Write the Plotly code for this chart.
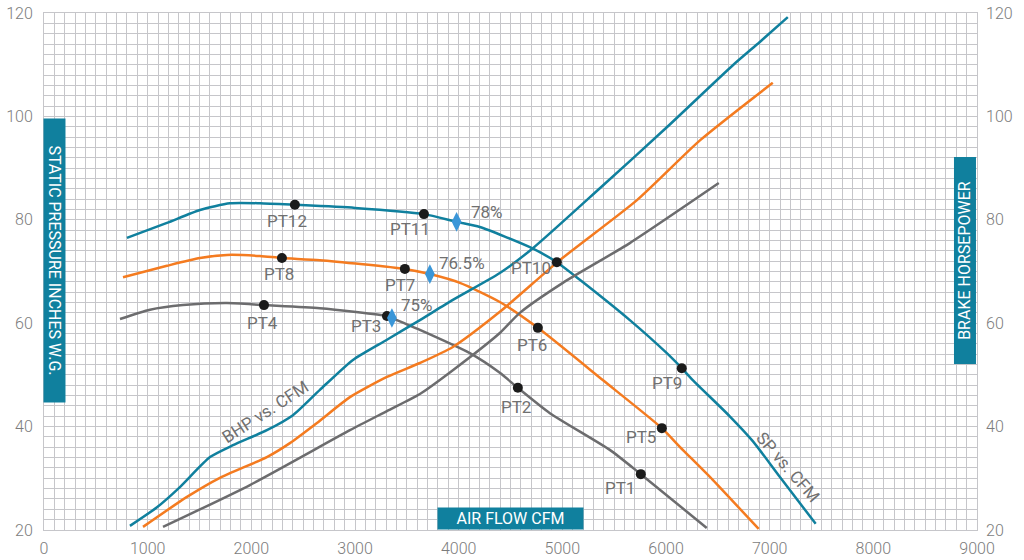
import plotly.graph_objects as go

# ---- fan curve data (CFM vs. inches W.G. / brake horsepower) ----
# Static pressure curves
sp78_cfm = [800, 1186, 1504, 1794, 2083, 2420, 3000, 3665, 3980, 4204, 4687, 4947, 5169, 5651, 6008, 6152, 6258, 6615, 6837, 7097, 7444]
sp78_val = [76.5, 79.4, 81.9, 83.2, 83.2, 82.9, 82.3, 81.1, 79.6, 78.6, 74.7, 71.8, 68.4, 60.6, 54.2, 51.3, 49.0, 42.0, 37.2, 30.3, 21.2]

sp765_cfm = [762, 1186, 1504, 1765, 2083, 2295, 2661, 3481, 3722, 4012, 4397, 4764, 5390, 5960, 6133, 6451, 6894]
sp765_val = [68.9, 71.1, 72.6, 73.2, 73.0, 72.6, 72.2, 70.5, 69.5, 67.8, 64.1, 59.1, 49.0, 39.7, 36.1, 29.7, 20.2]

sp75_cfm = [733, 1022, 1340, 1765, 2122, 2661, 3308, 3356, 3626, 4108, 4397, 4571, 4880, 5458, 5757, 6393]
sp75_val = [60.8, 62.6, 63.5, 63.9, 63.5, 62.9, 61.4, 61.0, 58.7, 54.2, 50.4, 47.5, 42.6, 35.5, 30.8, 20.4]

# Brake horsepower curves
bhp78_cfm = [829, 1090, 1311, 1601, 1823, 2150, 2401, 2661, 2980, 3308, 3626, 3944, 4397, 4716, 5362, 6008, 6645, 6905, 7175]
bhp78_val = [20.8, 24.4, 28.3, 34.1, 36.4, 39.3, 42.2, 47.1, 52.9, 56.8, 60.6, 64.5, 69.7, 74.5, 86.1, 97.9, 109.9, 114.4, 119.2]

bhp765_cfm = [955, 1379, 1697, 2150, 2372, 2633, 2951, 3308, 3626, 3944, 4397, 4976, 5720, 6330, 7030]
bhp765_val = [20.6, 26.4, 30.1, 34.1, 36.8, 40.7, 45.7, 49.6, 52.3, 55.4, 62.2, 72.2, 83.8, 95.4, 106.5]

bhp75_cfm = [1148, 1987, 2951, 3308, 3626, 3944, 4397, 4590, 5005, 5651, 6509]
bhp75_val = [20.6, 28.7, 39.3, 43.0, 46.3, 50.9, 58.1, 62.0, 67.8, 75.5, 87.1]

# Operating points
pt_names = ["PT1", "PT2", "PT3", "PT4", "PT5", "PT6", "PT7", "PT8", "PT9", "PT10", "PT11", "PT12"]
pt_cfm = [5757, 4571, 3308, 2122, 5960, 4764, 3481, 2295, 6152, 4947, 3665, 2420]
pt_val = [30.8, 47.5, 61.4, 63.5, 39.7, 59.1, 70.5, 72.6, 51.3, 71.8, 81.1, 82.9]
# label offsets in pixels (dx, dy) relative to each point
pt_offsets = [(-21, -14), (-2, -19), (-21, -10), (-1, -18), (-21, -9), (-6, -17), (-5, -16), (-3, -16), (-15, -15), (-26, -6), (-14, -15), (-8, -16)]

# Peak efficiency markers
eff_labels = ["75%", "76.5%", "78%"]
eff_cfm = [3356, 3722, 3980]
eff_val = [61.0, 69.5, 79.6]

x_ticks = list(range(0, 9001, 1000))
y_ticks = list(range(20, 121, 20))

TEAL = "#10809e"
ORANGE = "#f47b20"
GRAY = "#6c6c6e"
DIAMOND = "#3a96d8"
GRID = "#c6c6ca"
TEXT = "#707070"
FONT = "Roboto, 'Liberation Sans', Arial, sans-serif"

fig = go.Figure()

curves = [
    (sp75_cfm, sp75_val, GRAY),
    (sp765_cfm, sp765_val, ORANGE),
    (sp78_cfm, sp78_val, TEAL),
    (bhp75_cfm, bhp75_val, GRAY),
    (bhp765_cfm, bhp765_val, ORANGE),
    (bhp78_cfm, bhp78_val, TEAL),
]
for xs, ys, col in curves:
    fig.add_trace(go.Scatter(
        x=xs, y=ys, mode="lines",
        line=dict(color=col, width=2.5, shape="spline", smoothing=0.6),
        hoverinfo="skip", showlegend=False,
    ))

fig.add_trace(go.Scatter(
    x=pt_cfm, y=pt_val, mode="markers",
    marker=dict(color="#1b1b1b", size=10),
    text=pt_names, hoverinfo="text", showlegend=False,
))

fig.add_trace(go.Scatter(
    x=eff_cfm, y=eff_val, mode="markers",
    marker=dict(color=DIAMOND, size=14, symbol="diamond-tall"),
    text=eff_labels, hoverinfo="text", showlegend=False,
))

# invisible trace to carry the right-hand axis
fig.add_trace(go.Scatter(x=[0], y=[20], yaxis="y2", mode="markers",
                         marker=dict(opacity=0), hoverinfo="skip", showlegend=False))

annotations = []
for name, x, y, (dx, dy) in zip(pt_names, pt_cfm, pt_val, pt_offsets):
    annotations.append(dict(x=x, y=y, text=name, showarrow=False, xshift=dx, yshift=dy,
                            font=dict(family=FONT, size=17, color=TEXT)))
eff_shift = [(25, 13), (32, 11), (30, 10)]
for lab, x, y, (dx, dy) in zip(eff_labels, eff_cfm, eff_val, eff_shift):
    annotations.append(dict(x=x, y=y, text=lab, showarrow=False, xshift=dx, yshift=dy,
                            font=dict(family=FONT, size=17, color=TEXT)))

annotations += [
    dict(x=2132, y=42.8, text="BHP vs. CFM", showarrow=False, textangle=-33,
         font=dict(family=FONT, size=17, color=TEXT)),
    dict(x=7177, y=32.2, text="SP vs. CFM", showarrow=False, textangle=49,
         font=dict(family=FONT, size=17, color=TEXT)),
    dict(xref="paper", yref="paper", x=0.01125, y=0.5213, xanchor="center", yanchor="middle",
         text="STATIC PRESSURE INCHES W.G.",
         showarrow=False, textangle=90, bgcolor=TEAL, width=283, height=21, borderpad=0,
         font=dict(family=FONT, size=16, color="white")),
    dict(xref="paper", yref="paper", x=0.9866, y=0.5222, xanchor="center", yanchor="middle",
         text="BRAKE HORSEPOWER",
         showarrow=False, textangle=-90, bgcolor=TEAL, width=206, height=21, borderpad=0,
         font=dict(family=FONT, size=16, color="white")),
    dict(xref="paper", yref="paper", x=0.5, y=0.0222, xanchor="center", yanchor="middle",
         text="AIR FLOW CFM",
         showarrow=False, bgcolor=TEAL, width=145, height=21, borderpad=0,
         font=dict(family=FONT, size=16, color="white")),
]

axis_common = dict(
    showgrid=True, gridcolor=GRID, gridwidth=1,
    showline=True, linecolor=GRID, linewidth=1, mirror=True,
    zeroline=False, ticks="", automargin=False,
    tickfont=dict(family=FONT, size=16, color="#7c7c7c", weight=300),
)

fig.update_layout(
    width=1024, height=560,
    margin=dict(l=44, r=47, t=13, b=30),
    paper_bgcolor="white", plot_bgcolor="white",
    xaxis=dict(range=[0, 9000], tickvals=x_ticks, ticktext=[str(v) for v in x_ticks],
               minor=dict(dtick=100, showgrid=True, gridcolor=GRID, gridwidth=1),
               ticklabelstandoff=4, **axis_common),
    yaxis=dict(range=[20, 120], tickvals=y_ticks, ticktext=[str(v) for v in y_ticks],
               minor=dict(dtick=2, showgrid=True, gridcolor=GRID, gridwidth=1),
               ticklabelstandoff=7, **axis_common),
    yaxis2=dict(range=[20, 120], tickvals=y_ticks, ticktext=[str(v) for v in y_ticks],
                overlaying="y", side="right", showgrid=False, zeroline=False, ticks="",
                ticklabelstandoff=8, automargin=False,
                tickfont=dict(family=FONT, size=16, color="#7c7c7c", weight=300)),
    annotations=annotations,
    showlegend=False,
)

fig.write_html("out.html")
